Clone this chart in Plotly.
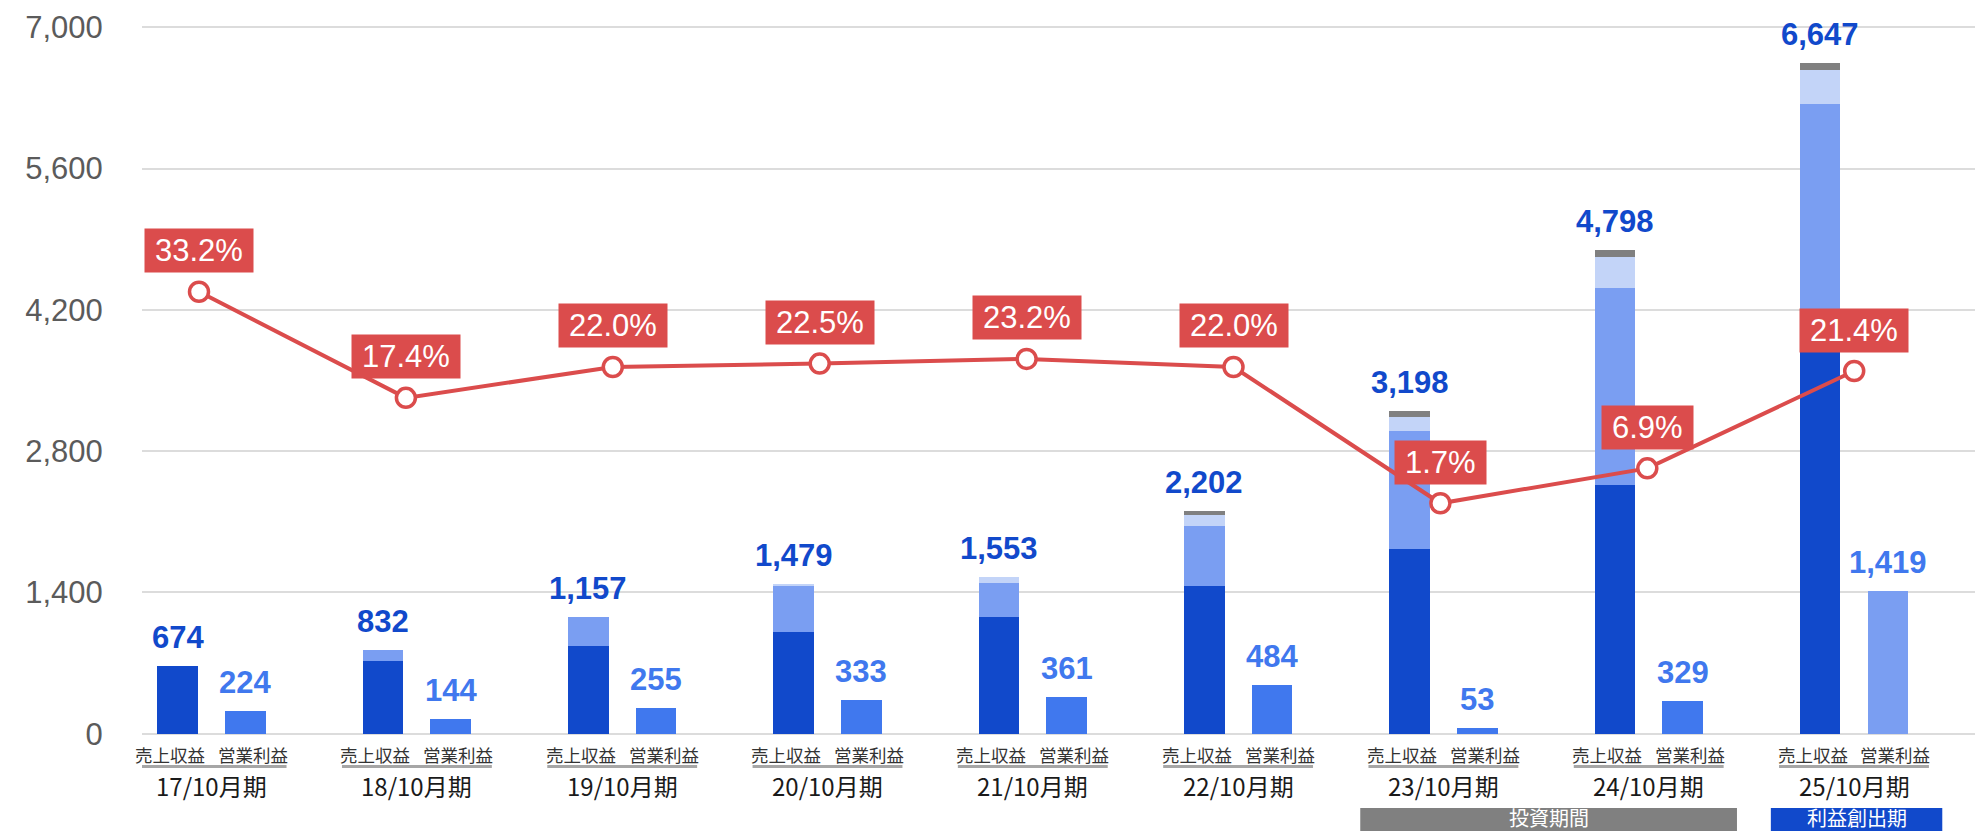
import plotly.graph_objects as go

# ---------------- data ----------------
categories = ["17/10月期", "18/10月期", "19/10月期", "20/10月期", "21/10月期",
              "22/10月期", "23/10月期", "24/10月期", "25/10月期"]
bar_labels = ["売上収益", "営業利益"]
rev_seg1 = [674, 718, 867, 1004, 1159, 1466, 1835, 2460, 3787]   # dark blue
rev_seg2 = [0, 114, 290, 462, 333, 594, 1160, 1958, 2454]        # mid blue
rev_seg3 = [0, 0, 0, 13, 61, 109, 139, 304, 337]                 # light blue
rev_seg4 = [0, 0, 0, 0, 0, 33, 64, 76, 69]                       # gray
revenue_total = [674, 832, 1157, 1479, 1553, 2202, 3198, 4798, 6647]
op_profit = [224, 144, 255, 333, 361, 484, 53, 329, 1419]
op_profit_forecast = [False, False, False, False, False, False, False, False, True]
op_margin = [33.2, 17.4, 22.0, 22.5, 23.2, 22.0, 1.7, 6.9, 21.4]
y_ticks = [0, 1400, 2800, 4200, 5600, 7000]
periods = ["投資期間", "利益創出期"]
period_first = [6, 8]
period_last = [7, 8]

# ---------------- style ----------------
W, H = 1975, 831
ML, MR, MT, MB = 142, 0, 22, 92
PLOT_BOTTOM = H - MB
PLOT_H = H - MT - MB
DARK = "#1149CB"
MID = "#7A9EF2"
LIGHT = "#C3D4F8"
GRAY = "#808080"
PROFIT = "#4078EE"
RED = "#DB4C4C"
NUM_FONT = "Liberation Sans, Arial, sans-serif"
JP_FONT = "Noto Sans CJK JP, sans-serif"
OFF = 0.165
BW = 0.198


def py(ypix):
    return (PLOT_BOTTOM - ypix) / PLOT_H


def text_w(s, size):
    w = 0
    for ch in s:
        if ch.isdigit():
            w += 0.556
        elif ch == ".":
            w += 0.278
        elif ch == "%":
            w += 0.889
        else:
            w += 0.5
    return w * size


xs = list(range(len(categories)))
x_rev = [i - OFF for i in xs]
x_pro = [i + OFF for i in xs]

fig = go.Figure()
for vals, col in [(rev_seg1, DARK), (rev_seg2, MID), (rev_seg3, LIGHT), (rev_seg4, GRAY)]:
    fig.add_trace(go.Bar(x=x_rev, y=vals, width=BW, marker=dict(color=col, line=dict(width=0)),
                         hoverinfo="y"))
fig.add_trace(go.Bar(x=x_pro, y=op_profit, width=BW,
                     marker=dict(color=[MID if f else PROFIT for f in op_profit_forecast],
                                 line=dict(width=0)), hoverinfo="y"))
fig.add_trace(go.Scatter(x=xs, y=op_margin, xaxis="x2", yaxis="y2", mode="lines+markers",
                         line=dict(color=RED, width=4),
                         marker=dict(symbol="circle", size=19, color="white",
                                     line=dict(color=RED, width=3.5)),
                         hoverinfo="y"))

ann = []
for i in xs:
    ann.append(dict(x=x_rev[i], y=revenue_total[i], xref="x", yref="y", text=f"{revenue_total[i]:,}",
                    showarrow=False, yanchor="bottom", yshift=9,
                    font=dict(family=NUM_FONT, size=31, color=DARK, weight="bold")))
    ann.append(dict(x=x_pro[i], y=op_profit[i], xref="x", yref="y", text=f"{op_profit[i]:,}",
                    showarrow=False, yanchor="bottom", yshift=9,
                    font=dict(family=NUM_FONT, size=31, color=PROFIT, weight="bold")))
    t = f"{op_margin[i]:.1f}%"
    ann.append(dict(x=i, y=op_margin[i], xref="x2", yref="y2", text=t, showarrow=False,
                    yanchor="middle", yshift=41, bgcolor=RED, borderpad=4,
                    width=text_w(t, 31) + 12,
                    font=dict(family=NUM_FONT, size=31, color="white")))
    ann.append(dict(x=i - 0.202, y=py(754), xref="x", yref="paper", text=bar_labels[0],
                    showarrow=False, yanchor="middle",
                    font=dict(family=JP_FONT, size=17.5, color="#333333")))
    ann.append(dict(x=i + 0.202, y=py(754), xref="x", yref="paper", text=bar_labels[1],
                    showarrow=False, yanchor="middle",
                    font=dict(family=JP_FONT, size=17.5, color="#333333")))
    ann.append(dict(x=i, y=py(785), xref="x", yref="paper", text=categories[i],
                    showarrow=False, yanchor="middle",
                    font=dict(family=JP_FONT, size=24, color="#1a1a1a")))

shapes = []
for i in xs:
    shapes.append(dict(type="line", xref="x", yref="paper", x0=i - 0.365, x1=i + 0.365,
                       y0=py(766.5), y1=py(766.5), line=dict(color="#a6a6a6", width=3)))
pcolors = [GRAY, DARK]
for k, name in enumerate(periods):
    x0 = period_first[k] - 0.405
    x1 = period_last[k] + 0.43
    shapes.append(dict(type="rect", xref="x", yref="paper", x0=x0, x1=x1,
                       y0=py(850), y1=py(808), fillcolor=pcolors[k], line=dict(width=0),
                       layer="above"))
    ann.append(dict(x=(x0 + x1) / 2, y=py(817), xref="x", yref="paper", text=name,
                    showarrow=False, yanchor="middle",
                    font=dict(family=JP_FONT, size=20, color="white")))

y_lo = -((H - MB) - 733.7) / 0.100914
y_hi = (733.7 - MT) / 0.100914
y2_lo = -((H - MB) - 514.7) / 6.715
y2_hi = (514.7 - MT) / 6.715

fig.update_layout(
    width=W, height=H, margin=dict(l=ML, r=MR, t=MT, b=MB),
    paper_bgcolor="white", plot_bgcolor="white", showlegend=False,
    barmode="relative", bargap=0,
    xaxis=dict(range=[(ML - 211.6) / 205.3, (W - 211.6) / 205.3], showgrid=False,
               zeroline=False, showticklabels=False, ticks=""),
    xaxis2=dict(range=[(ML - 199) / 206.9, (W - 199) / 206.9], overlaying="x",
                visible=False),
    yaxis=dict(range=[y_lo, y_hi], tickvals=y_ticks, tickformat=",",
               showgrid=True, gridcolor="#dcdcdc", gridwidth=2,
               zeroline=True, zerolinecolor="#dcdcdc", zerolinewidth=2,
               ticks="outside", ticklen=32, tickcolor="rgba(0,0,0,0)",
               tickfont=dict(family=NUM_FONT, size=31, color="#5b5b5b")),
    yaxis2=dict(range=[y2_lo, y2_hi], overlaying="y", visible=False),
    annotations=ann, shapes=shapes,
)

fig.write_html("out.html", config={"displayModeBar": False},
               post_script="document.body.style.margin='0';document.body.style.overflow='hidden';")
